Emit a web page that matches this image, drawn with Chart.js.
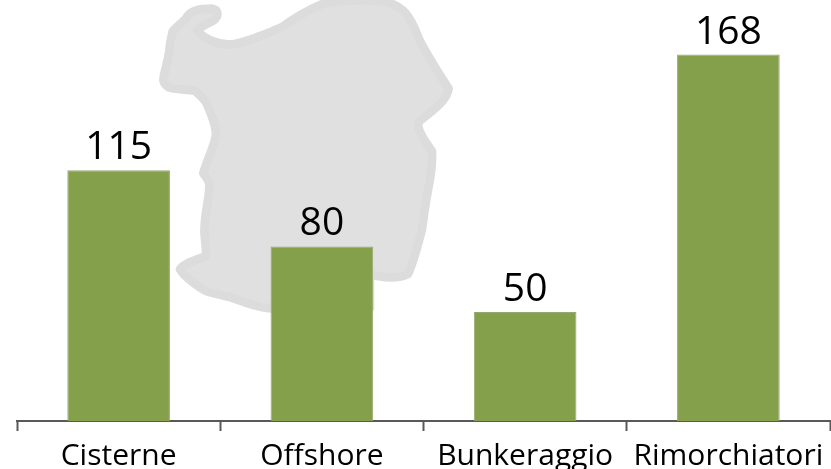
<!DOCTYPE html>
<html>
<head>
<meta charset="utf-8">
<style>
  html, body { margin: 0; padding: 0; background: #fff; overflow: hidden; }
  #wrap { position: relative; width: 831px; height: 469px; overflow: hidden; }
  #island { position: absolute; left: 0; top: 0; }
  canvas { position: absolute; left: 0; top: 0; }
</style>
<script src="https://cdn.jsdelivr.net/npm/chart.js@4"></script>
</head>
<body>
<div id="wrap">
  <!-- faded island behind the bars -->
  <svg id="island" width="831" height="469">
    <filter id="soft"><feGaussianBlur stdDeviation="2" /></filter>
    <g transform="translate(150,0) scale(0.3333)" filter="url(#soft)">
      <path fill="#e0e0e0" stroke="#dcdcdc" stroke-width="26" stroke-linejoin="round"
        d="M108,55 C120,30 150,26 188,26 C205,30 208,48 190,62 C170,72 150,80 142,92 C160,116 200,132 240,134 C290,128 340,104 395,82 C425,60 460,36 512,14 C570,0 660,-4 715,8 C760,20 780,50 802,104 C815,140 860,210 896,266 C892,290 880,310 806,365 C800,385 815,410 846,454 C848,490 846,510 836,560 C826,610 820,660 816,688 C800,750 790,790 774,822 C750,836 700,836 660,822 L660,925 L360,925 C320,922 280,905 242,892 C210,885 170,875 165,872 C130,850 100,825 90,808 C100,790 140,780 168,768 C170,740 160,700 164,680 C165,630 180,590 178,552 C175,535 165,530 160,520 C170,480 198,430 198,400 C195,360 175,325 168,306 C155,290 145,280 134,272 C100,268 70,268 56,262 C45,255 40,245 40,238 C45,205 55,180 58,152 C60,125 65,110 68,94 C80,80 95,70 108,55 Z" />
    </g>
  </svg>
  <canvas id="chart" width="831" height="469"></canvas>
</div>
<script>
const categories = ['Cisterne', 'Offshore', 'Bunkeraggio', 'Rimorchiatori'];
const values = [115, 80, 50, 168];

// numbers above the bars
const valueLabels = {
    id: 'valueLabels',
    afterDatasetsDraw(chart) {
        const ctx = chart.ctx;
        const meta = chart.getDatasetMeta(0);
        ctx.save();
        ctx.fillStyle = '#000';
        ctx.font = '39px "Open Sans"';
        ctx.textAlign = 'center';
        ctx.textBaseline = 'alphabetic';
        meta.data.forEach((bar, i) => {
            ctx.fillText(values[i], bar.x, bar.y - 11);
        });
        ctx.restore();
    }
};

new Chart(document.getElementById('chart'), {
    type: 'bar',
    data: {
        labels: categories,
        datasets: [{
            data: values,
            backgroundColor: '#85a04b',
            borderColor: '#93a96f',
            borderWidth: 1,
            barPercentage: 0.505,
            categoryPercentage: 1
        }]
    },
    options: {
        responsive: false,
        animation: false,
        layout: { padding: { left: 17, right: 1, top: 0, bottom: 0 } },
        plugins: {
            legend: { display: false },
            tooltip: { enabled: false }
        },
        scales: {
            x: {
                afterFit(scale) { scale.height = 48; },
                border: { display: true, color: '#595959', width: 2 },
                grid: {
                    offset: true,
                    drawOnChartArea: false,
                    drawTicks: true,
                    tickLength: 10,
                    tickColor: '#595959',
                    tickWidth: 2
                },
                ticks: {
                    autoSkip: false,
                    maxRotation: 0,
                    color: '#000',
                    padding: 7,
                    font: { family: '"Open Sans"', size: 30 }
                }
            },
            y: {
                display: false,
                min: 0,
                max: 193
            }
        }
    },
    plugins: [valueLabels]
});
</script>
</body>
</html>
